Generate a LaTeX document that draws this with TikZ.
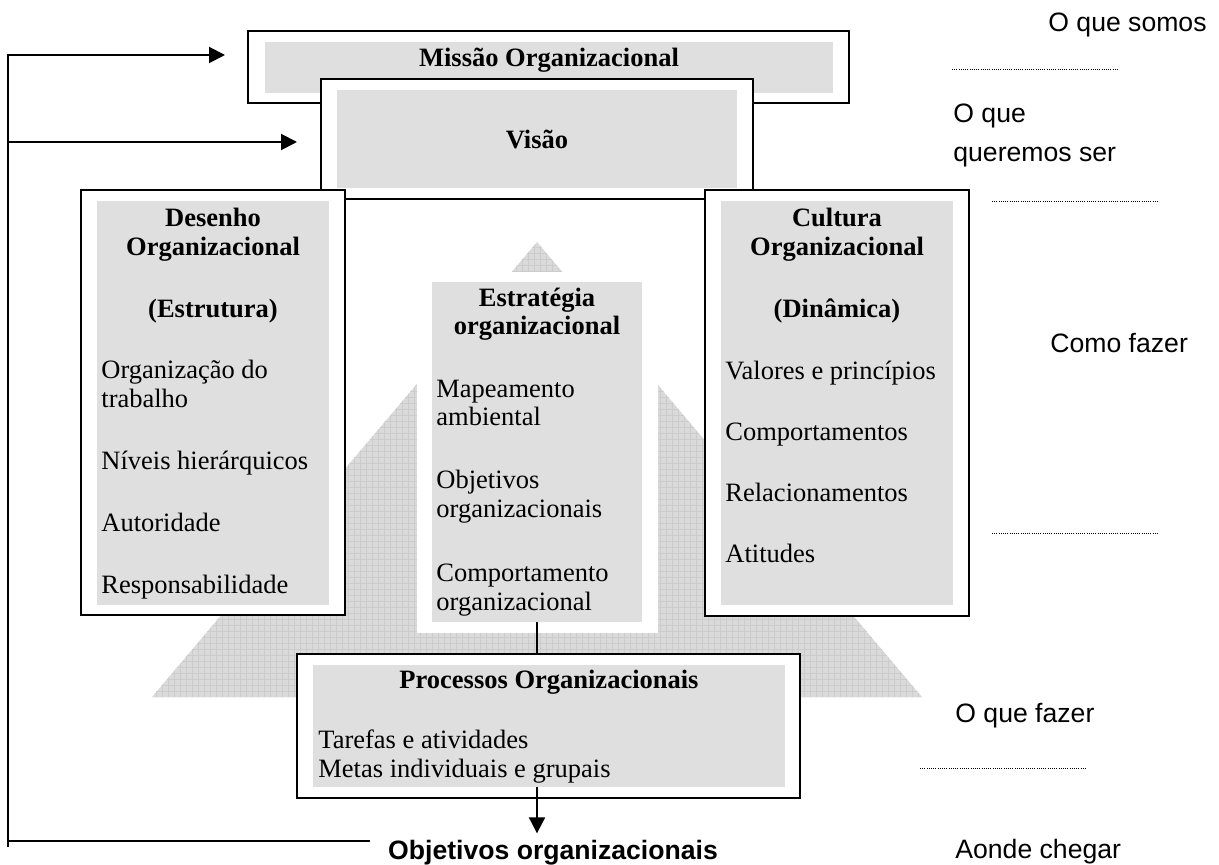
\documentclass[tikz,border=0pt]{standalone}
\usepackage{fontspec}
\setmainfont{Liberation Serif}
\newfontfamily\labelfont{Liberation Sans}
\usetikzlibrary{positioning,arrows.meta,fit,patterns}
\definecolor{boxgrey}{RGB}{223,223,223}
\definecolor{pyrgrey}{RGB}{218,218,218}
\tikzset{
    orgframe/.style={draw, line width=1pt, fill=white, inner sep=0pt},
    orgfill/.style={fill=boxgrey, inner sep=0pt},
    orghead/.style={font=\fontsize{13.25}{14.4}\selectfont\bfseries, align=center, inner sep=0pt},
    orgitem/.style={font=\fontsize{13.25}{14.4}\selectfont, align=left, inner sep=0pt},
    orglevel/.style={font=\labelfont\fontsize{13.3}{16}\selectfont, inner sep=0pt},
    orgarrow/.style={draw, line width=1pt, -{Triangle[length=8pt, width=8pt]}},
    orgline/.style={draw, line width=1pt},
    orgdots/.style={draw, line width=0.5pt, dash pattern=on 0.5pt off 0.6pt}
}

\begin{document}
\begin{tikzpicture}[x=0.5pt, y=-0.5pt]
    \useasboundingbox (0,0) rectangle (1219,865);

    % pyramid behind everything
    \fill[pyrgrey] (537,242) -- (922,697) -- (152,697) -- cycle;
    \fill[pattern=grid, pattern color=gray!40] (537,242) -- (922,697) -- (152,697) -- cycle;

    % mission and vision
    \node[orgframe, fit={(248,31) (849,103)}] (missao) {};
    \node[orgfill, fit={(265,42) (833,93)}] (missaofill) {};
    \node[orghead, anchor=base] (missaotxt) at (549,67) {Missão Organizacional};

    \node[orgframe, fit={(321,79) (753,199)}] (visao) {};
    \node[orgfill, fit={(337,90) (737,188)}] (visaofill) {};
    \node[orghead] (visaotxt) at (visaofill.center) {Visão};

    % side pillars (base = last line)
    \node[orgframe, fit={(81,190) (345,615)}] (desenho) {};
    \node[orgfill, fit={(97,201) (329,605)}] (desenhofill) {};
    \node[orghead, anchor=base] (desenhohead) at (213,318) {Desenho\\Organizacional\\[17pt](Estrutura)};
    \node[orgitem, anchor=base west] (desenhoitems) at (101,593) {Organização do\\trabalho\\[16.5pt]Níveis hierárquicos\\[16.5pt]Autoridade\\[16.5pt]Responsabilidade};

    \node[orgframe, fit={(705,190) (969,616)}] (cultura) {};
    \node[orgfill, fit={(721,201) (953,605)}] (culturafill) {};
    \node[orghead, anchor=base] (culturahead) at (837,318) {Cultura\\Organizacional\\[17pt](Dinâmica)};
    \node[orgitem, anchor=base west] (culturaitems) at (725,562) {Valores e princípios\\[16pt]Comportamentos\\[16pt]Relacionamentos\\[16pt]Atitudes};

    % strategy in the middle
    \node[fill=white, inner sep=0pt, fit={(417,272) (658,633)}] (estrategia) {};
    \node[orgfill, fit={(432,282) (642,622)}] (estrategiafill) {};
    \node[orghead, anchor=base] (estrategiahead) at (537,335) {Estratégia\\organizacional};
    \node[orgitem, anchor=base west] (estrategiaitems) at (436,610) {Mapeamento\\ambiental\\[17pt]Objetivos\\organizacionais\\[17.5pt]Comportamento\\organizacional};

    % processes
    \node[orgframe, fit={(297,654) (800,798)}] (processos) {};
    \node[orgfill, fit={(313,665) (785,787)}] (processosfill) {};
    \node[orghead, anchor=base] (processoshead) at (549,688) {Processos Organizacionais};
    \node[orgitem, anchor=base west] (processositems) at (318,777) {Tarefas e atividades\\Metas individuais e grupais};

    \node[font=\labelfont\bfseries\fontsize{13.3}{16}\selectfont, anchor=base, inner sep=3pt] (objetivos) at (553,859) {Objetivos organizacionais};

    \draw[orgline] (estrategiafill.south) -- (estrategiafill.south |- processos.north);
    \draw[orgarrow] (estrategiafill.south |- processosfill.south) -- (estrategiafill.south |- objetivos.north);

    % feedback loop on the left
    \coordinate (loopend) at (370,841);
    \coordinate (loopcorner) at (8,841);
    \coordinate (loopfoot) at (8,847);
    \coordinate (missaoin) at (225,55);
    \coordinate (visaoin) at (297,142);
    \draw[orgarrow] (loopend) -- (loopcorner) |- (missaoin);
    \draw[orgarrow] (loopcorner |- visaoin) -- (visaoin);
    \draw[orgline] (loopcorner) -- (loopfoot);

    % levels on the right
    \node[orglevel, anchor=base west] (somos) at (1048,32) {O que somos};
    \node[orglevel, anchor=base west] (queremos) at (953,123) {O que};
    \node[orglevel, anchor=base west] (queremosser) at (953,162) {queremos ser};
    \node[orglevel, anchor=base west] (comofazer) at (1050,353) {Como fazer};
    \node[orglevel, anchor=base west] (quefazer) at (955,722) {O que fazer};
    \node[orglevel, anchor=base west] (chegar) at (955,858) {Aonde chegar};
    \draw[orgdots] (952,70) -- (1118,70);
    \draw[orgdots] (992,202) -- (1158,202);
    \draw[orgdots] (992,533) -- (1158,533);
    \draw[orgdots] (920,768) -- (1086,768);
\end{tikzpicture}
\end{document}
